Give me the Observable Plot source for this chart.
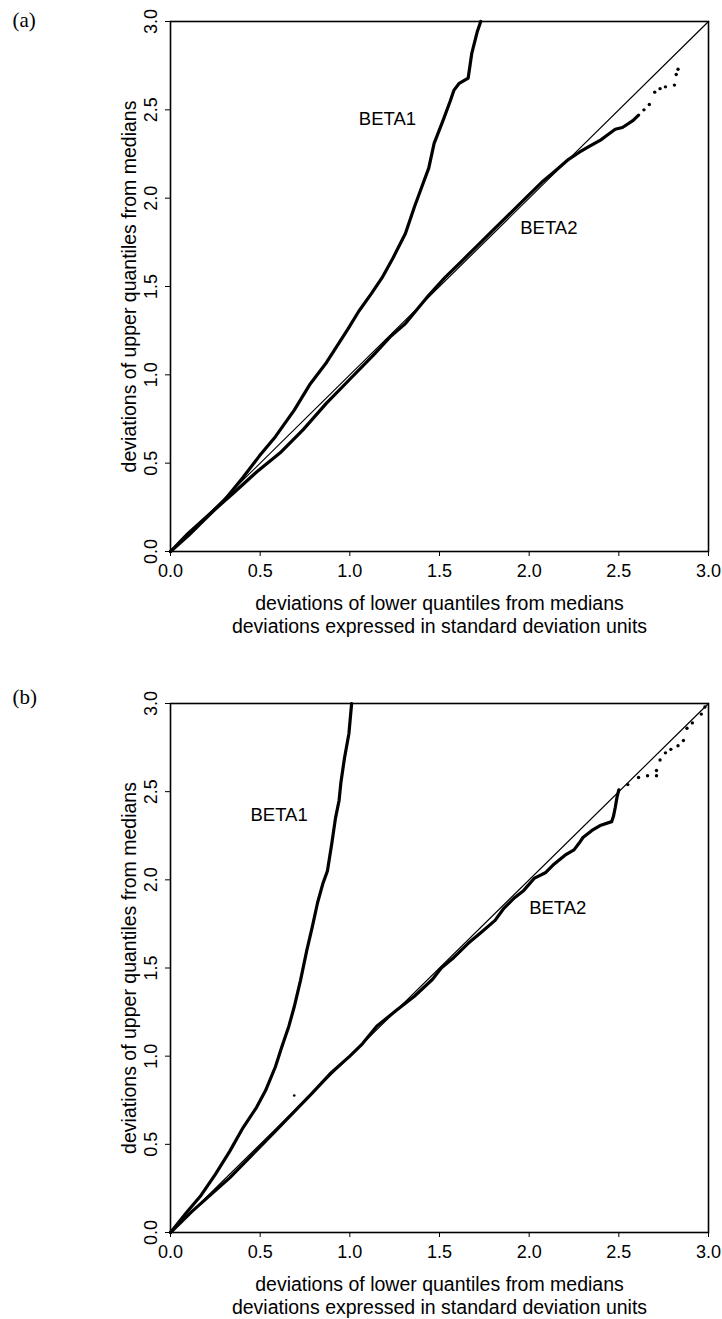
<!DOCTYPE html>
<html><head><meta charset="utf-8">
<script src="https://cdn.jsdelivr.net/npm/d3@7"></script>
<script src="https://cdn.jsdelivr.net/npm/@observablehq/plot@0.6"></script>
<style>
body{margin:0;background:#fff;}
#a,#b{width:722px;}
svg{display:block;}
</style></head><body><div id="a"></div><div id="b"></div>
<script>
// ---------- shared text / ticks ----------
const tickValues = [0, 0.5, 1, 1.5, 2, 2.5, 3];
const xTitle = "deviations of lower quantiles from medians\ndeviations expressed in standard deviation units";
const yTitle = "deviations of upper quantiles from medians";
const diagX = [0, 3];
const diagY = [0, 3];

// ---------- panel (a) ----------
const a_beta1X = [0, 0.10, 0.20, 0.30, 0.405, 0.495, 0.585, 0.69, 0.78, 0.87, 0.99, 1.05, 1.12, 1.18, 1.24, 1.31, 1.36, 1.40, 1.44, 1.47, 1.52, 1.56, 1.58, 1.61, 1.66, 1.68, 1.71, 1.73];
const a_beta1Y = [0, 0.09, 0.19, 0.29, 0.42, 0.54, 0.65, 0.80, 0.95, 1.07, 1.26, 1.36, 1.46, 1.55, 1.66, 1.80, 1.95, 2.06, 2.17, 2.31, 2.44, 2.55, 2.61, 2.65, 2.68, 2.82, 2.94, 3.0];
const a_beta2X = [0, 0.095, 0.20, 0.35, 0.48, 0.61, 0.74, 0.87, 1.0, 1.13, 1.23, 1.31, 1.44, 1.53, 1.62, 1.72, 1.81, 1.90, 2.0, 2.07, 2.14, 2.22, 2.28, 2.33, 2.40, 2.44, 2.48, 2.52, 2.55, 2.58, 2.61];
const a_beta2Y = [0, 0.10, 0.196, 0.33, 0.45, 0.557, 0.69, 0.84, 0.975, 1.11, 1.22, 1.29, 1.45, 1.55, 1.64, 1.74, 1.83, 1.92, 2.02, 2.09, 2.15, 2.22, 2.26, 2.29, 2.33, 2.36, 2.39, 2.40, 2.42, 2.44, 2.47];
const a_tailX = [2.64, 2.67, 2.70, 2.73, 2.76, 2.81, 2.82, 2.83];
const a_tailY = [2.50, 2.53, 2.60, 2.62, 2.63, 2.64, 2.70, 2.73];
const a_labels = ["BETA1", "BETA2"];
const a_labelX = [1.05, 1.95];
const a_labelY = [2.45, 1.83];

// ---------- panel (b) ----------
const b_beta1X = [0, 0.095, 0.17, 0.25, 0.33, 0.405, 0.48, 0.53, 0.585, 0.62, 0.66, 0.69, 0.725, 0.76, 0.79, 0.82, 0.85, 0.875, 0.90, 0.92, 0.94, 0.95, 0.97, 0.995, 1.01];
const b_beta1Y = [0, 0.12, 0.21, 0.33, 0.46, 0.595, 0.71, 0.805, 0.94, 1.05, 1.17, 1.28, 1.43, 1.60, 1.73, 1.87, 1.98, 2.05, 2.21, 2.35, 2.45, 2.55, 2.69, 2.83, 3.0];
const b_strayX = [0.69];
const b_strayY = [0.777];
const b_beta2X = [0, 0.12, 0.33, 0.585, 0.79, 0.89, 1.0, 1.07, 1.15, 1.26, 1.36, 1.46, 1.51, 1.58, 1.66, 1.73, 1.81, 1.86, 1.92, 1.97, 2.03, 2.09, 2.14, 2.20, 2.25, 2.28, 2.30, 2.35, 2.40, 2.46, 2.47, 2.48, 2.49, 2.50];
const b_beta2Y = [0, 0.12, 0.31, 0.575, 0.79, 0.90, 1.0, 1.07, 1.17, 1.26, 1.34, 1.435, 1.50, 1.56, 1.64, 1.70, 1.77, 1.84, 1.90, 1.94, 2.01, 2.04, 2.09, 2.14, 2.17, 2.21, 2.24, 2.28, 2.31, 2.33, 2.36, 2.41, 2.47, 2.51];
const b_tailX = [2.55, 2.61, 2.66, 2.71, 2.71, 2.73, 2.76, 2.79, 2.83, 2.86, 2.88, 2.91, 2.96, 2.98];
const b_tailY = [2.54, 2.58, 2.59, 2.59, 2.62, 2.68, 2.72, 2.74, 2.76, 2.79, 2.86, 2.89, 2.94, 2.98];
const b_labels = ["BETA1", "BETA2"];
const b_labelX = [0.446, 2.0];
const b_labelY = [2.37, 1.84];

const SANS = "Liberation Sans, Arial, Helvetica, sans-serif";
const SERIF = "Liberation Serif, Times New Roman, serif";
const rows = (xs, ys) => xs.map((x, i) => ({x, y: ys[i]}));

function panel({tag, height, marginTop, marginBottom, b1X, b1Y, b2X, b2Y, tX, tY, sX, sY, labels, lX, lY, tagDy}) {
  const marks = [
    Plot.line(rows(diagX, diagY), {x: "x", y: "y", stroke: "black", strokeWidth: 1.2}),
    Plot.line(rows(b1X, b1Y), {x: "x", y: "y", stroke: "black", strokeWidth: 3.2, curve: "linear"}),
    Plot.line(rows(b2X, b2Y), {x: "x", y: "y", stroke: "black", strokeWidth: 3.2, curve: "linear"}),
    Plot.dot(rows(tX, tY), {x: "x", y: "y", r: 1.7, fill: "black", stroke: null}),
    Plot.frame({stroke: "black", strokeWidth: 1.6}),
    Plot.axisX({ticks: tickValues, tickFormat: d3.format(".1f"), tickSize: 5, tickPadding: 8, label: null, fontSize: 18, fontFamily: SANS}),
    Plot.axisY({ticks: tickValues, tickFormat: d3.format(".1f"), tickSize: 5, tickRotate: -90, tickPadding: 9, label: null, fontSize: 18, fontFamily: SANS}),
    Plot.text(labels.map((t, i) => ({t, x: lX[i], y: lY[i]})), {x: "x", y: "y", text: "t", textAnchor: "start", fontSize: 18.5, fontFamily: SANS}),
    Plot.text([yTitle], {frameAnchor: "left", rotate: -90, dx: -41, textAnchor: "middle", lineAnchor: "middle", fontSize: 19.5, fontFamily: SANS}),
    Plot.text([xTitle], {frameAnchor: "bottom", dy: 63, lineAnchor: "middle", lineHeight: 1.18, fontSize: 19.5, fontFamily: SANS}),
    Plot.text([tag], {frameAnchor: "top-left", dx: -158, dy: tagDy, textAnchor: "start", lineAnchor: "middle", fontSize: 21, fontFamily: SERIF})
  ];
  if (sX) marks.push(Plot.dot(rows(sX, sY), {x: "x", y: "y", r: 1.3, fill: "black", stroke: null}));
  return Plot.plot({
    width: 722, height, marginTop, marginBottom, marginLeft: 170, marginRight: 14,
    x: {domain: [0, 3]}, y: {domain: [0, 3]},
    style: {fontFamily: SANS, fontSize: "18px", background: "white", color: "black"},
    marks
  });
}

document.getElementById("a").append(panel({
  tag: "(a)", height: 650, marginTop: 21, marginBottom: 99,
  b1X: a_beta1X, b1Y: a_beta1Y, b2X: a_beta2X, b2Y: a_beta2Y, tX: a_tailX, tY: a_tailY,
  labels: a_labels, lX: a_labelX, lY: a_labelY, tagDy: -1
}));
document.getElementById("b").append(panel({
  tag: "(b)", height: 669, marginTop: 53, marginBottom: 87,
  b1X: b_beta1X, b1Y: b_beta1Y, b2X: b_beta2X, b2Y: b_beta2Y, tX: b_tailX, tY: b_tailY,
  sX: b_strayX, sY: b_strayY,
  labels: b_labels, lX: b_labelX, lY: b_labelY, tagDy: -6
}));
</script></body></html>
